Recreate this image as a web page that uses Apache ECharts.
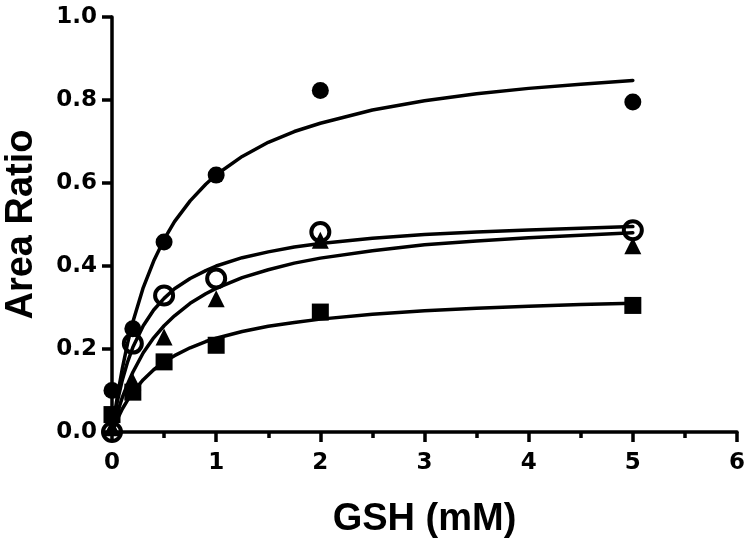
<!DOCTYPE html>
<html>
<head>
<meta charset="utf-8">
<script src="https://cdn.jsdelivr.net/npm/echarts@6/dist/echarts.min.js"></script>
<style>
html,body{margin:0;padding:0;background:#fff;}
#chart{width:750px;height:545px;}
</style>
</head>
<body>
<div id="chart"></div>
<script>
// Measured data points (GSH concentration, mM)
var xValues = [0, 0.2, 0.5, 1, 2, 5];
var filledCircle = [0.10, 0.249, 0.458, 0.619, 0.823, 0.795];
var openCircle = [0.00, 0.213, 0.329, 0.370, 0.482, 0.486];
var triangle = [0.01, 0.121, 0.229, 0.321, 0.462, 0.449];
var square = [0.042, 0.096, 0.169, 0.209, 0.289, 0.305];

// Fitted curves
var curveX = [0, 0.05, 0.1, 0.15, 0.2, 0.3, 0.4, 0.5, 0.6, 0.75, 0.9, 1, 1.25, 1.5, 1.75, 2, 2.5, 3, 3.5, 4, 4.5, 5];
var curveFilled = [0, 0.084, 0.154, 0.214, 0.265, 0.348, 0.412, 0.464, 0.507, 0.557, 0.597, 0.620, 0.664, 0.698, 0.724, 0.744, 0.776, 0.798, 0.815, 0.828, 0.838, 0.847];
var curveOpen = [0, 0.072, 0.126, 0.169, 0.204, 0.256, 0.294, 0.322, 0.345, 0.370, 0.389, 0.400, 0.420, 0.434, 0.446, 0.454, 0.467, 0.476, 0.482, 0.487, 0.491, 0.495];
var curveTriangle = [0, 0.045, 0.084, 0.116, 0.144, 0.191, 0.227, 0.256, 0.280, 0.310, 0.333, 0.346, 0.372, 0.391, 0.407, 0.419, 0.437, 0.451, 0.460, 0.468, 0.474, 0.480];
var curveSquare = [0, 0.030, 0.056, 0.077, 0.096, 0.126, 0.150, 0.169, 0.184, 0.203, 0.218, 0.226, 0.242, 0.255, 0.264, 0.272, 0.284, 0.292, 0.298, 0.303, 0.307, 0.310];

// Axis ticks
var xTicks = {min: 0, max: 6, step: 1};
var yTicks = {min: 0, max: 1, step: 0.2};
var xTitle = 'GSH (mM)';
var yTitle = 'Area Ratio';

function pairs(xs, ys) { return xs.map(function (x, i) { return [x, ys[i]]; }); }

var chart = echarts.init(document.getElementById('chart'), null, {renderer: 'canvas'});

function curve(ys) {
  return {
    type: 'line', data: pairs(curveX, ys), smooth: false,
    showSymbol: false, symbol: 'none', silent: true,
    lineStyle: {color: '#000', width: 3.5, join: 'round', cap: 'round'}, z: 2
  };
}
function marks(ys, symbol, size, style) {
  return {
    type: 'scatter', data: pairs(xValues, ys), symbol: symbol, symbolSize: size,
    itemStyle: Object.assign({opacity: 1}, style), silent: true, z: 3
  };
}

var labelFont = {fontFamily: 'DejaVu Sans', fontWeight: 'bold', fontSize: 23, color: '#000'};
var titleFont = {fontFamily: 'Liberation Sans', fontWeight: 'bold', fontSize: 38, color: '#000'};

chart.setOption({
  animation: false,
  backgroundColor: '#fff',
  grid: {left: 112, right: 13, top: 17, bottom: 113, containLabel: false, outerBoundsMode: 'none'},
  xAxis: {
    type: 'value', min: xTicks.min, max: xTicks.max, interval: xTicks.step,
    name: xTitle, nameLocation: 'middle', nameGap: 69, nameTextStyle: titleFont,
    axisLine: {show: true, onZero: false, lineStyle: {color: '#000', width: 3.5}},
    axisTick: {show: true, length: 10, lineStyle: {color: '#000', width: 3.5}},
    minorTick: {show: true, splitNumber: 2, length: 6, lineStyle: {color: '#000', width: 3.5}},
    axisLabel: Object.assign({margin: 20}, labelFont),
    splitLine: {show: false}, minorSplitLine: {show: false}
  },
  yAxis: {
    type: 'value', min: yTicks.min, max: yTicks.max, interval: yTicks.step,
    name: yTitle, nameLocation: 'middle', nameGap: 71, nameTextStyle: titleFont,
    axisLine: {show: true, onZero: false, lineStyle: {color: '#000', width: 3.5}},
    axisTick: {show: true, length: 10, lineStyle: {color: '#000', width: 3.5}},
    axisLabel: Object.assign({margin: 15, formatter: function (v) { return v.toFixed(1); }}, labelFont),
    splitLine: {show: false}
  },
  series: [
    curve(curveFilled), curve(curveOpen), curve(curveTriangle), curve(curveSquare),
    marks(square, 'rect', 17, {color: '#000'}),
    marks(triangle, 'triangle', 17, {color: '#000'}),
    marks(filledCircle, 'circle', 17, {color: '#000'}),
    marks(openCircle, 'circle', 18, {color: 'rgba(0,0,0,0)', borderColor: '#000', borderWidth: 4})
  ]
});
</script>
</body>
</html>
